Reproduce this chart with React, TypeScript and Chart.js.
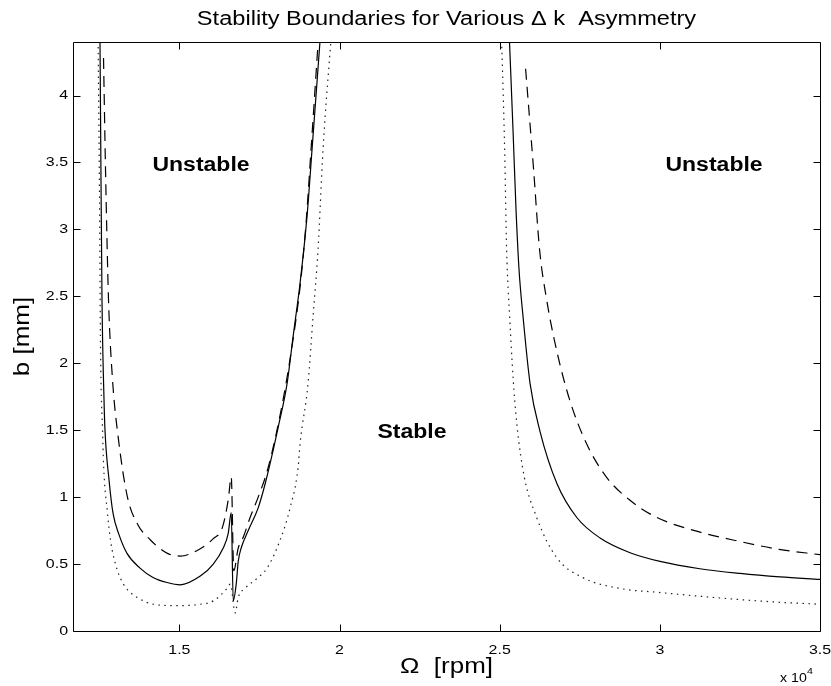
import { useEffect, useRef } from "react";
import { Chart, registerables } from "chart.js";

Chart.register(...registerables);

// ---- axis settings / tick labels ----
const X_MIN = 11680;
const X_MAX = 35000;
const Y_MIN = 0;
const Y_MAX = 4.4;
const xTickValues = [15000, 20000, 25000, 30000, 35000];
const yTickValues = [0, 0.5, 1, 1.5, 2, 2.5, 3, 3.5, 4];
const xTickLabels = ["1.5", "2", "2.5", "3", "3.5"];
const yTickLabels = ["0", "0.5", "1", "1.5", "2", "2.5", "3", "3.5", "4"];

// ---- solid curve ----
const solidLeftOmega = [12520, 12554, 12585, 12648, 12679, 12804, 12929, 13116, 13366, 13772, 14178, 14615, 15030, 15654, 16059, 16370, 16526, 16620, 16682, 16775, 16838, 16931, 17150, 17461, 17679, 17928, 18084, 18364, 18551, 18769, 18987, 19143, 19420];
const solidLeftB = [4.5, 3.38, 2.48, 1.73, 1.5, 1.13, 0.88, 0.72, 0.58, 0.47, 0.4, 0.362, 0.345, 0.41, 0.5, 0.62, 0.73, 0.885, 0.225, 0.35, 0.52, 0.62, 0.75, 0.92, 1.1, 1.35, 1.52, 1.85, 2.2, 2.6, 3.1, 3.6, 4.5];
const solidRightOmega = [25290, 25417, 25510, 25604, 25729, 25948, 26260, 26790, 27414, 28133, 29070, 30006, 31250, 32504, 33750, 35000];
const solidRightB = [4.5, 3.74, 3.15, 2.7, 2.35, 1.85, 1.49, 1.1, 0.846, 0.695, 0.585, 0.52, 0.465, 0.43, 0.404, 0.385];

// ---- dashed curve ----
const dashedLeftOmega = [12633, 12695, 12788, 12913, 13100, 13380, 13692, 14097, 14626, 15030, 15654, 16059, 16340, 16526, 16620, 16700, 16838, 16994, 17212, 17461, 17772, 18240, 18551, 18769, 18956, 19112, 19360];
const dashedLeftB = [4.28, 3.45, 2.48, 1.88, 1.43, 1.0, 0.8, 0.68, 0.58, 0.56, 0.615, 0.69, 0.77, 0.98, 1.15, 0.45, 0.62, 0.7, 0.85, 1.0, 1.22, 1.73, 2.18, 2.57, 3.05, 3.6, 4.5];
const dashedRightOmega = [25809, 26058, 26245, 26463, 26775, 27180, 27710, 28333, 29049, 29890, 31230, 32475, 33720, 35000];
const dashedRightB = [4.2, 3.45, 2.85, 2.48, 2.1, 1.73, 1.4, 1.15, 0.98, 0.85, 0.74, 0.67, 0.61, 0.57];

// ---- dotted curve ----
const dottedLeftOmega = [12460, 12508, 12540, 12602, 12633, 12757, 12850, 13006, 13256, 13692, 14190, 14813, 15030, 15654, 16059, 16495, 16589, 16744, 16838, 17056, 17461, 17741, 18146, 18458, 18707, 18769, 19018, 19174, 19330, 19486, 19760];
const dottedLeftB = [4.5, 3.23, 2.1, 1.5, 1.25, 0.88, 0.68, 0.5, 0.35, 0.25, 0.2, 0.19, 0.19, 0.2, 0.225, 0.32, 0.35, 0.135, 0.25, 0.32, 0.4, 0.47, 0.68, 0.92, 1.22, 1.4, 1.85, 2.35, 2.85, 3.6, 4.5];
const dottedRightOmega = [25050, 25155, 25217, 25311, 25467, 25716, 26152, 26775, 27585, 28831, 29890, 31230, 32475, 33720, 35000];
const dottedRightB = [4.5, 3.6, 2.85, 2.35, 1.73, 1.22, 0.85, 0.55, 0.4, 0.315, 0.29, 0.26, 0.235, 0.215, 0.2];

// ---- texts ----
const titleText = "Stability Boundaries for Various \u0394 k  Asymmetry";
const xAxisTitle = "\u03A9  [rpm]";
const yAxisTitle = "b [mm]";
const regionLabels = [
  { text: "Unstable", x: 15676, y: 3.44 },
  { text: "Unstable", x: 31692, y: 3.44 },
  { text: "Stable", x: 22263, y: 1.44 },
];

const FONT = "'Liberation Sans', Arial, Helvetica, sans-serif";
const STRETCH = 1.18;

function pts(xs: number[], ys: number[]) {
  return xs.map((x, i) => ({ x, y: ys[i] }));
}

function drawText(
  ctx: CanvasRenderingContext2D,
  text: string,
  x: number,
  y: number,
  font: string,
  align: CanvasTextAlign,
  baseline: CanvasTextBaseline,
  rotation = 0
) {
  ctx.save();
  ctx.translate(x, y);
  if (rotation) ctx.rotate(rotation);
  ctx.scale(STRETCH, 1);
  ctx.font = font;
  ctx.textAlign = align;
  ctx.textBaseline = baseline;
  ctx.fillStyle = "#000";
  ctx.fillText(text, 0, 0);
  ctx.restore();
}

const matlabFrame = {
  id: "matlabFrame",
  afterDraw(chart: any) {
    const { ctx, chartArea: a, scales } = chart;
    const xs = scales.x;
    const ys = scales.y;
    const L = Math.round(a.left) + 0.5;
    const R = Math.round(a.right) + 0.5;
    const T = Math.round(a.top) + 0.5;
    const B = Math.round(a.bottom) + 0.5;
    ctx.save();
    ctx.strokeStyle = "#000";
    ctx.lineWidth = 1;
    ctx.setLineDash([]);
    ctx.beginPath();
    ctx.rect(L, T, R - L, B - T);
    ctx.stroke();
    const tl = 7;
    ctx.beginPath();
    xTickValues.forEach((v) => {
      const px = Math.round(xs.getPixelForValue(v)) + 0.5;
      ctx.moveTo(px, B);
      ctx.lineTo(px, B - tl);
      ctx.moveTo(px, T);
      ctx.lineTo(px, T + tl);
    });
    yTickValues.forEach((v) => {
      const py = Math.round(ys.getPixelForValue(v)) + 0.5;
      ctx.moveTo(L, py);
      ctx.lineTo(L + tl, py);
      ctx.moveTo(R, py);
      ctx.lineTo(R - tl, py);
    });
    ctx.stroke();
    ctx.restore();

    // tick labels
    const tickFont = `13.5px ${FONT}`;
    xTickValues.forEach((v, i) => {
      drawText(ctx, xTickLabels[i], xs.getPixelForValue(v), a.bottom + 23, tickFont, "center", "alphabetic");
    });
    yTickValues.forEach((v, i) => {
      drawText(ctx, yTickLabels[i], a.left - 5, ys.getPixelForValue(v), tickFont, "right", "middle");
    });

    // title
    drawText(ctx, titleText, (a.left + a.right) / 2, 25, `20px ${FONT}`, "center", "alphabetic");
    // axis titles
    drawText(ctx, xAxisTitle, (a.left + a.right) / 2, 673, `22px ${FONT}`, "center", "alphabetic");
    drawText(ctx, yAxisTitle, 23, (a.top + a.bottom) / 2, `22px ${FONT}`, "center", "middle", -Math.PI / 2);
    // exponent
    drawText(ctx, "x 10", 780, 682, `12px ${FONT}`, "left", "alphabetic");
    drawText(ctx, "4", 807, 674, `9px ${FONT}`, "left", "alphabetic");

    // region labels
    regionLabels.forEach((r) => {
      drawText(ctx, r.text, xs.getPixelForValue(r.x), ys.getPixelForValue(r.y), `bold 19.5px ${FONT}`, "center", "alphabetic");
    });
  },
};

export default function App() {
  const ref = useRef<HTMLCanvasElement | null>(null);
  useEffect(() => {
    if (!ref.current) return;
    const base = {
      borderColor: "#000",
      borderWidth: 1.2,
      pointRadius: 0,
      fill: false,
      cubicInterpolationMode: "monotone",
    };
    const solid = { ...base, borderDash: [] as number[] };
    const dashed = { ...base, borderDash: [11, 7] };
    const dotted = { ...base, borderDash: [1.5, 4.5], borderColor: "#222" };
    const chart = new Chart(ref.current, {
      type: "line",
      data: {
        datasets: [
          { label: "solid-left", data: pts(solidLeftOmega, solidLeftB), ...solid },
          { label: "solid-right", data: pts(solidRightOmega, solidRightB), ...solid },
          { label: "dashed-left", data: pts(dashedLeftOmega, dashedLeftB), ...dashed },
          { label: "dashed-right", data: pts(dashedRightOmega, dashedRightB), ...dashed },
          { label: "dotted-left", data: pts(dottedLeftOmega, dottedLeftB), ...dotted },
          { label: "dotted-right", data: pts(dottedRightOmega, dottedRightB), ...dotted },
        ],
      },
      options: {
        animation: false,
        responsive: false,
        devicePixelRatio: 1,
        layout: { padding: { left: 73, right: 11, top: 42, bottom: 55 } },
        scales: {
          x: { type: "linear", min: X_MIN, max: X_MAX, display: false },
          y: { type: "linear", min: Y_MIN, max: Y_MAX, display: false },
        },
        plugins: { legend: { display: false }, tooltip: { enabled: false }, title: { display: false } },
      },
      plugins: [matlabFrame],
    } as any);
    return () => chart.destroy();
  }, []);
  return (
    <div style={{ position: "fixed", left: 0, top: 0, width: 831, height: 686, background: "#fff" }}>
      <canvas ref={ref} width={831} height={686} style={{ width: 831, height: 686, display: "block" }} />
    </div>
  );
}
